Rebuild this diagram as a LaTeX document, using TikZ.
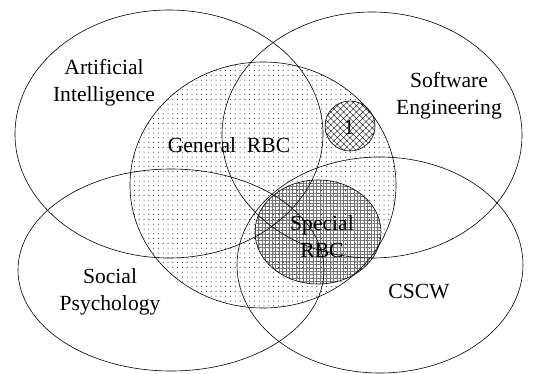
\documentclass[tikz,border=0pt]{standalone}
\usepackage{fontspec}
\setmainfont{Liberation Serif}
\usetikzlibrary{patterns,patterns.meta,positioning}

\begin{document}
\begin{tikzpicture}[x=1pt, y=-1pt, font=\fontsize{21.6}{27}\selectfont,
  rim/.style={line width=0.6pt},
  lbl/.style={align=center, inner sep=0pt}]
\useasboundingbox (0,0) rectangle (536,373);
\coordinate (AI) at (169,134); \coordinate (SE) at (372,135);
\coordinate (SP) at (171,270); \coordinate (CW) at (380,265);
\coordinate (GR) at (263,185); \coordinate (SR) at (318,232);
\coordinate (One) at (350,126);
% Muster
\fill[pattern={Dots[distance=4.8pt,radius=0.5pt]}] (GR) ellipse [x radius=133pt, y radius=123pt];
\fill[pattern={Hatch[angle=0,distance=3.4pt,line width=0.2pt]}, pattern color=black!55] (SR) ellipse [x radius=63pt, y radius=52pt];
\fill[white] (One) circle [radius=25pt];
\fill[pattern={Hatch[angle=45,distance=4.5pt,line width=0.35pt]}] (One) circle [radius=25pt];
% Umrisse
\draw[rim] (AI) ellipse [x radius=154pt, y radius=124pt];
\draw[rim] (SE) ellipse [x radius=150pt, y radius=123pt];
\draw[rim] (SP) ellipse [x radius=153pt, y radius=101pt];
\draw[rim] (CW) ellipse [x radius=143pt, y radius=108pt];
\draw[rim] (GR) ellipse [x radius=133pt, y radius=123pt];
\draw[rim] (SR) ellipse [x radius=63pt, y radius=52pt];
\draw[rim] (One) circle [radius=25pt];
% Beschriftung
\node[lbl] (ailbl) at (104,83) {Artificial\\Intelligence};
\node[lbl] (selbl) at (449,96) {Software\\Engineering};
\node[lbl] (grlbl) at (229,145) {General~ RBC};
\node[lbl] (onelbl) at (349,127) {1};
\node[lbl] (srlbl) at (322,237) {Special\\RBC};
\node[lbl] (splbl) at (110,292) {Social\\Psychology};
\node[lbl] (cwlbl) at (419,292) {CSCW};
\end{tikzpicture}
\end{document}
